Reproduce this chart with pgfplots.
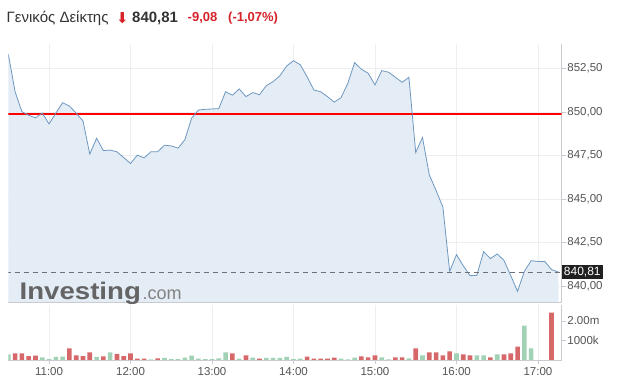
\documentclass[border=0pt]{standalone}
\usepackage{pgfplots}
\pgfplotsset{compat=1.18}
\usepackage{pgfplotstable}
\usepackage{fontspec}
\setmainfont{Liberation Sans}
\newfontfamily\symfont{DejaVu Sans}
\definecolor{fillc}{RGB}{228,236,245}
\definecolor{linec}{RGB}{110,152,192}
\definecolor{gridc}{RGB}{236,238,241}
\definecolor{axisc}{RGB}{200,204,208}
\definecolor{redbar}{RGB}{214,104,106}
\definecolor{greenbar}{RGB}{162,210,182}
\definecolor{labc}{RGB}{85,85,85}
\definecolor{titc}{RGB}{51,51,51}
\definecolor{redt}{RGB}{214,34,40}
\definecolor{closered}{RGB}{240,140,140}
\definecolor{dashc}{RGB}{110,114,120}
\definecolor{logoc}{RGB}{100,100,100}
\definecolor{logoc2}{RGB}{130,130,130}

\pgfplotstableread{
t p
30 853.32
35 851.16
40 850.02
45 849.81
50 849.66
55 849.94
60 849.31
65 849.93
70 850.53
75 850.34
80 849.93
85 849.48
90 847.58
95 848.49
100 847.78
105 847.81
110 847.71
115 847.38
120 847.04
125 847.52
130 847.36
135 847.71
140 847.72
145 848.09
150 848.05
155 847.92
160 848.40
165 849.64
170 850.11
175 850.15
180 850.17
185 850.19
190 851.16
195 850.96
200 851.32
205 850.88
210 851.11
215 850.99
220 851.51
225 851.74
230 852.08
235 852.64
240 852.94
245 852.71
250 852.02
255 851.26
260 851.16
265 850.88
270 850.56
275 850.82
280 851.64
285 852.83
290 852.45
295 852.22
300 851.55
305 852.37
310 852.28
315 851.99
320 851.70
325 851.99
330 847.67
335 848.53
340 846.39
345 845.49
350 844.54
355 840.85
360 841.81
365 841.17
370 840.60
375 840.62
380 841.98
385 841.58
390 841.85
395 841.48
400 840.60
405 839.70
410 840.85
415 841.46
420 841.42
425 841.42
430 840.95
435 840.81
}\price

\pgfplotstableread{
t v
35 344
40 344
45 205
50 221
75 600
80 241
85 205
90 395
100 190
110 308
115 205
120 344
125 67
130 67
140 87
195 344
205 241
215 67
250 169
255 67
260 67
265 67
270 118
290 190
295 139
300 241
315 139
320 139
330 600
340 395
345 395
350 241
355 446
365 292
370 241
385 139
395 292
400 344
405 682
430 2426
}\volred

\pgfplotstableread{
t v
30 292
55 139
60 51
65 154
70 169
95 154
105 395
135 36
145 103
150 51
155 51
160 118
165 221
170 67
175 51
180 51
185 87
190 395
200 67
210 118
220 103
225 103
230 103
235 154
240 51
245 67
275 67
280 36
285 118
305 139
310 36
325 87
335 241
360 344
375 241
380 241
390 292
410 1760
415 600
}\volgreen

\begin{document}
\begin{tikzpicture}[x=1pt,y=1pt]
\path[use as bounding box, fill=white] (0,0) rectangle (618,385);

% Price panel
\begin{axis}[
  at={(8.3pt,83pt)}, anchor=south west,
  scale only axis, width=553.4pt, height=258pt,
  xmin=30, xmax=437.5, ymin=839.09, ymax=853.90,
  axis x line*=bottom, axis y line*=right,
  axis line style={draw=axisc, line width=0.8pt},
  xtick={60,120,180,240,300,360,420}, xticklabels={},
  x tick style={draw=none},
  ytick={840,842.5,845,847.5,850,852.5},
  yticklabels={{840,00},{842,50},{845,00},{847,50},{850,00},{852,50}},
  y tick style={draw=axisc, line width=0.6pt},
  tick align=outside, major tick length=4pt,
  yticklabel style={anchor=west, inner xsep=1.5pt, text=labc, font=\fontsize{11.5}{12}\selectfont},
  xmajorgrids, ymajorgrids,
  grid style={draw=gridc, line width=0.6pt},
  clip mode=individual,
]
\addplot[fill=fillc, draw=none] table[x=t, y=p] {\price} \closedcycle;
\addplot[color=red, line width=2pt, mark=none] coordinates {(30,849.89) (437.5,849.89)};
\addplot[color=linec, line width=0.8pt, mark=none] table[x=t, y=p] {\price};
\addplot[color=dashc, line width=1pt, mark=none, dash pattern=on 5pt off 4pt] coordinates {(28,840.81) (437.5,840.81)};
\node[anchor=west, fill=black!88, text=white, inner xsep=2pt, inner ysep=2.5pt,
      font=\fontsize{12}{12}\selectfont] at (axis cs:437.5,840.81) {840,81};
\end{axis}

% Volume panel
\begin{axis}[
  at={(8.3pt,25pt)}, anchor=south west,
  scale only axis, width=553.4pt, height=55pt,
  xmin=30, xmax=437.5, ymin=0, ymax=2820,
  axis x line*=bottom, axis y line*=right,
  axis line style={draw=axisc, line width=0.8pt},
  xtick={60,120,180,240,300,360,420},
  xticklabels={11:00,12:00,13:00,14:00,15:00,16:00,17:00},
  ytick={1000,2000}, yticklabels={1000k,2.00m},
  tick style={draw=axisc, line width=0.6pt},
  tick align=outside, major tick length=4pt,
  yticklabel style={anchor=west, inner xsep=1.5pt, text=labc, font=\fontsize{11.5}{12}\selectfont},
  xticklabel style={text=labc, font=\fontsize{11.5}{12}\selectfont},
  xmajorgrids,
  grid style={draw=gridc, line width=0.6pt},
]
\addplot[ybar, bar width=3.4, bar shift=0pt, fill=redbar, draw=none] table[x=t, y=v] {\volred};
\addplot[ybar, bar width=3.4, bar shift=0pt, fill=greenbar, draw=none] table[x=t, y=v] {\volgreen};
\end{axis}

% Logo
\node[anchor=base west, inner sep=0, text=logoc] at (19.5,85)
  {\scalebox{1.15}[1]{\fontsize{24}{24}\selectfont\bfseries Investing}};
\node[anchor=base west, inner sep=0, text=logoc2] at (142.5,85)
  {\fontsize{18}{18}\selectfont .com};

% Title
\node[anchor=west, inner sep=0, text=titc] at (6.5,367)
  {\fontsize{15}{15}\selectfont Γενικός Δείκτης};
\node[anchor=west, inner sep=0, text=redt] at (116,366.5)
  {\symfont\fontsize{15}{15}\selectfont ⬇};
\node[anchor=west, inner sep=0, text=titc] at (132,367)
  {\fontsize{15}{15}\selectfont\bfseries 840,81};
\node[anchor=west, inner sep=0, text=redt] at (187.5,367)
  {\fontsize{13}{13}\selectfont\bfseries -9,08};
\node[anchor=west, inner sep=0, text=redt] at (228,367)
  {\fontsize{13}{13}\selectfont\bfseries (-1,07\%)};
\end{tikzpicture}
\end{document}
